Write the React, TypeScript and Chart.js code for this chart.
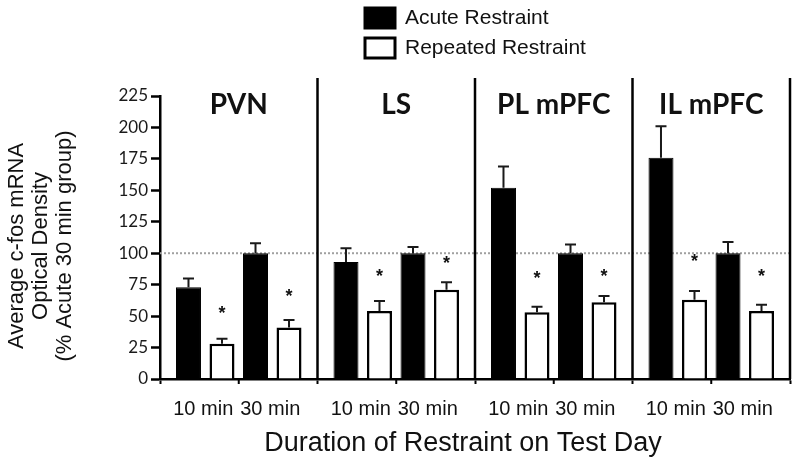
import React, { useEffect, useRef } from 'react';
import { Chart, registerables } from 'chart.js';

Chart.register(...registerables);

// ---- data ----
const regions = ['PVN', 'LS', 'PL mPFC', 'IL mPFC'];
const durations = ['10 min', '30 min'];
const seriesNames = ['Acute Restraint', 'Repeated Restraint'];
// ordered per region: [10 min, 30 min]
const acuteMean = [73, 100, 93, 100, 152, 100, 176, 100];
const acuteSem = [7, 8, 11, 5, 17, 7, 25, 9];
const repeatedMean = [28, 41, 54, 71, 53, 61, 63, 54];
const repeatedSem = [4, 6, 8, 6, 4.5, 5, 7, 5];
// significance markers (*) above the repeated-restraint bars
const asteriskAt = [56, 69, 85, 96, 84, 85, 97, 85];
const referenceValue = 100;
const yTitle = ['Average c-fos mRNA', 'Optical Density', '(% Acute 30 min group)'];
const xTitle = 'Duration of Restraint on Test Day';

const SANS = '"Liberation Sans", Arial, sans-serif';
const LATO = 'Lato, "Open Sans", sans-serif';

type DS = any;

function buildDatasets(): DS[] {
  const out: DS[] = [];
  const series = [
    { mean: acuteMean, sem: acuteSem, fill: '#000000', star: null as number[] | null },
    { mean: repeatedMean, sem: repeatedSem, fill: '#ffffff', star: asteriskAt },
  ];
  durations.forEach((d, g) => {
    series.forEach((s, k) => {
      out.push({
        label: `${seriesNames[k]} ${d}`,
        data: regions.map((_, r) => s.mean[r * 2 + g]),
        sem: regions.map((_, r) => s.sem[r * 2 + g]),
        stars: s.star ? regions.map((_, r) => (s.star as number[])[r * 2 + g]) : null,
        backgroundColor: s.fill,
        borderColor: '#000000',
        borderWidth: k === 0 ? 1 : 2.5,
        borderSkipped: 'start',
        categoryPercentage: 0.851,
        barPercentage: 0.746,
      });
    });
  });
  return out;
}

const decor = {
  id: 'decor',
  beforeDatasetsDraw(chart: any) {
    const { ctx, chartArea, scales } = chart;
    const y = scales.y.getPixelForValue(referenceValue);
    ctx.save();
    ctx.strokeStyle = '#a0a0a0';
    ctx.lineWidth = 2;
    ctx.setLineDash([2, 2]);
    ctx.beginPath();
    ctx.moveTo(chartArea.left, y);
    ctx.lineTo(chartArea.right, y);
    ctx.stroke();
    ctx.restore();
  },
  afterDatasetsDraw(chart: any) {
    const { ctx, scales } = chart;
    const ys = scales.y;
    ctx.save();
    chart.data.datasets.forEach((ds: any, i: number) => {
      const meta = chart.getDatasetMeta(i);
      meta.data.forEach((el: any, j: number) => {
        const v = ds.data[j];
        const top = ys.getPixelForValue(v + ds.sem[j]);
        const base = ys.getPixelForValue(v);
        ctx.strokeStyle = '#1a1a1a';
        ctx.lineWidth = 2;
        ctx.beginPath();
        ctx.moveTo(el.x, base);
        ctx.lineTo(el.x, top);
        ctx.moveTo(el.x - 5.5, top);
        ctx.lineTo(el.x + 5.5, top);
        ctx.stroke();
        if (ds.stars) {
          const sy = ys.getPixelForValue(ds.stars[j]);
          ctx.fillStyle = '#111';
          ctx.font = `bold 18px ${SANS}`;
          ctx.textAlign = 'center';
          ctx.textBaseline = 'alphabetic';
          ctx.fillText('*', el.x, sy + 0.57 * 18);
        }
      });
    });
    ctx.restore();
  },
  afterDraw(chart: any) {
    const { ctx, chartArea, scales } = chart;
    const xs = scales.x;
    ctx.save();
    // panel dividers
    ctx.strokeStyle = '#000';
    ctx.lineWidth = 2.5;
    for (let i = 1; i <= regions.length; i++) {
      const x = xs.getPixelForValue(i - 0.5);
      ctx.beginPath();
      ctx.moveTo(x, chartArea.top - 18);
      ctx.lineTo(x, chartArea.bottom);
      ctx.stroke();
    }
    // panel titles
    ctx.fillStyle = '#111';
    ctx.font = `bold 28px ${LATO}`;
    ctx.textAlign = 'center';
    ctx.textBaseline = 'middle';
    regions.forEach((r, i) => {
      ctx.fillText(r, xs.getPixelForValue(i), chartArea.top + 9);
    });
    // duration labels and mid ticks
    const metas = chart.data.datasets.map((_: any, i: number) => chart.getDatasetMeta(i));
    ctx.font = `20px ${SANS}`;
    ctx.textBaseline = 'middle';
    regions.forEach((_, r) => {
      durations.forEach((d, g) => {
        const xa = metas[g * 2].data[r].x;
        const xb = metas[g * 2 + 1].data[r].x;
        ctx.fillText(d, (xa + xb) / 2 - 2, chartArea.bottom + 30);
      });
      const mid = (metas[1].data[r].x + metas[2].data[r].x) / 2;
      ctx.lineWidth = 2;
      ctx.beginPath();
      ctx.moveTo(mid, chartArea.bottom);
      ctx.lineTo(mid, chartArea.bottom + 5);
      ctx.stroke();
    });
    // x-axis title
    ctx.font = `27px ${SANS}`;
    ctx.textAlign = 'center';
    ctx.textBaseline = 'middle';
    ctx.fillText(xTitle, 463, 444);
    // y-axis title
    ctx.save();
    ctx.translate(0, 246);
    ctx.rotate(-Math.PI / 2);
    ctx.font = `22px ${SANS}`;
    yTitle.forEach((line, i) => {
      ctx.fillText(line, 0, 17 + i * 24);
    });
    ctx.restore();
    // legend
    const lx = 365;
    const rows = [18, 48];
    seriesNames.forEach((name, k) => {
      const cy = rows[k];
      ctx.lineWidth = 3;
      ctx.strokeStyle = '#000';
      ctx.fillStyle = k === 0 ? '#000' : '#fff';
      ctx.fillRect(lx, cy - 10, 30, 20);
      ctx.strokeRect(lx, cy - 10, 30, 20);
      ctx.fillStyle = '#111';
      ctx.font = `21px ${SANS}`;
      ctx.textAlign = 'left';
      ctx.textBaseline = 'middle';
      ctx.fillText(name, 405, cy);
    });
    ctx.restore();
  },
};

export default function App() {
  const ref = useRef<HTMLCanvasElement | null>(null);
  useEffect(() => {
    if (!ref.current) return;
    const chart = new Chart(ref.current, {
      type: 'bar',
      data: { labels: regions, datasets: buildDatasets() },
      options: {
        animation: false,
        responsive: false,
        maintainAspectRatio: false,
        layout: { padding: { left: 0, right: 10, top: 96, bottom: 0 } },
        plugins: { legend: { display: false }, tooltip: { enabled: false } },
        scales: {
          x: {
            type: 'category',
            offset: true,
            afterFit: (s: any) => { s.height = 89; },
            ticks: { display: false },
            grid: { drawOnChartArea: false, drawTicks: true, tickLength: 5, tickColor: '#000', tickWidth: 2, color: '#000' },
            border: { display: true, color: '#000', width: 2.5 },
            title: { display: false },
          },
          y: {
            min: 0,
            max: 225,
            afterFit: (s: any) => { s.width = 160; },
            ticks: { stepSize: 25, color: '#1a1a1a', font: { family: LATO, size: 17 }, padding: 3 },
            grid: { drawOnChartArea: false, tickLength: 9, tickColor: '#000', tickWidth: 2.5 },
            border: { display: true, color: '#000', width: 2.5 },
            title: { display: false },
          },
        },
      } as any,
      plugins: [decor],
    });
    return () => chart.destroy();
  }, []);
  return (
    <div style={{ position: 'fixed', left: 0, top: 0, width: 800, height: 468, background: '#fff' }}>
      <canvas ref={ref} width={800} height={468} style={{ display: 'block' }} />
    </div>
  );
}
